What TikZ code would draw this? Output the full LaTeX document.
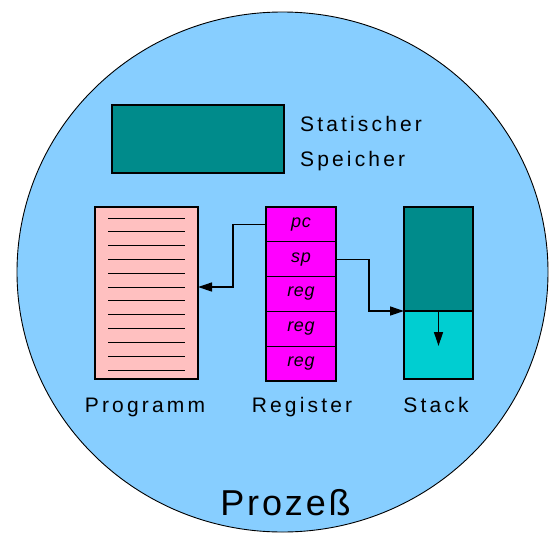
\documentclass[tikz,border=0pt]{standalone}
\usepackage{fontspec}
\setmainfont{Liberation Sans}[LetterSpace=15]
\usetikzlibrary{shapes.geometric,arrows.meta,calc,positioning}
\definecolor{bgblue}{RGB}{135,206,255}
\definecolor{teal1}{RGB}{0,139,139}
\definecolor{pink1}{RGB}{255,192,192}
\definecolor{magenta1}{RGB}{255,0,255}
\definecolor{cyan1}{RGB}{0,206,209}
\begin{document}
\begin{tikzpicture}[x=1pt,y=-1pt,
  box/.style={draw=black,line width=1.3pt,inner sep=0pt,outer sep=0pt},
  regcell/.style={box,fill=magenta1,minimum width=70pt,minimum height=34.8pt,font=\fontsize{18}{18}\selectfont\itshape\addfontfeatures{LetterSpace=3}},
  lbl/.style={font=\fontsize{21}{21}\selectfont,anchor=base,inner sep=0pt},
  arr/.style={line width=1.3pt,-{Triangle[length=14pt,width=9pt]}}]
\useasboundingbox (0,0) rectangle (554,536);
\node[ellipse,draw=black,line width=0.9pt,fill=bgblue,minimum width=531pt,minimum height=520pt,inner sep=0pt] (proc) at (282.5,272) {};
% static memory
\node[box,fill=teal1,minimum width=172pt,minimum height=68pt] (stat) at (198,139) {};
\node[lbl,anchor=base west] (st1) at (300,131) {Statischer};
\node[lbl,anchor=base west] (st2) at (300,166) {Speicher};
% program
\node[box,fill=pink1,minimum width=103pt,minimum height=172pt] (prog) at (146.5,293) {};
\foreach \i in {0,...,11}{
  \pgfmathsetmacro{\yy}{floor(218+\i*13.82)+0.5}
  \draw[line width=1.6pt] (108,\yy) -- (185,\yy);
}
% register
\node[regcell] (pc) at (301,224.4) {pc};
\node[regcell,below=0pt of pc] (sp) {sp};
\node[regcell,below=0pt of sp] (r1) {reg};
\node[regcell,below=0pt of r1] (r2) {reg};
\node[regcell,below=0pt of r2] (r3) {reg};
% stack
\node[box,fill=teal1,minimum width=69pt,minimum height=104pt] (stop) at (438.5,259) {};
\node[box,fill=cyan1,minimum width=69pt,minimum height=68pt,below=0pt of stop] (sbot) {};
% labels
\node[lbl] (lprog) at (145,412) {Programm};
\node[lbl] (lreg) at (302,412) {Register};
\node[lbl] (lstack) at (436,412) {Stack};
\node[font=\fontsize{36}{36}\selectfont\addfontfeatures{LetterSpace=8},anchor=base,inner sep=0pt] (lproc) at (285.5,515) {Prozeß};
% arrows
\coordinate (c1) at (233,287);
\coordinate (c2) at (369,311);
\coordinate (c3) at (438.5,346);
\draw[arr] (pc.west) -| (c1) -- (prog.east |- c1);
\draw[arr] (sp.east) -| (c2) -- (stop.south west);
\draw[arr] (stop.south) -- (c3);
\end{tikzpicture}
\end{document}
